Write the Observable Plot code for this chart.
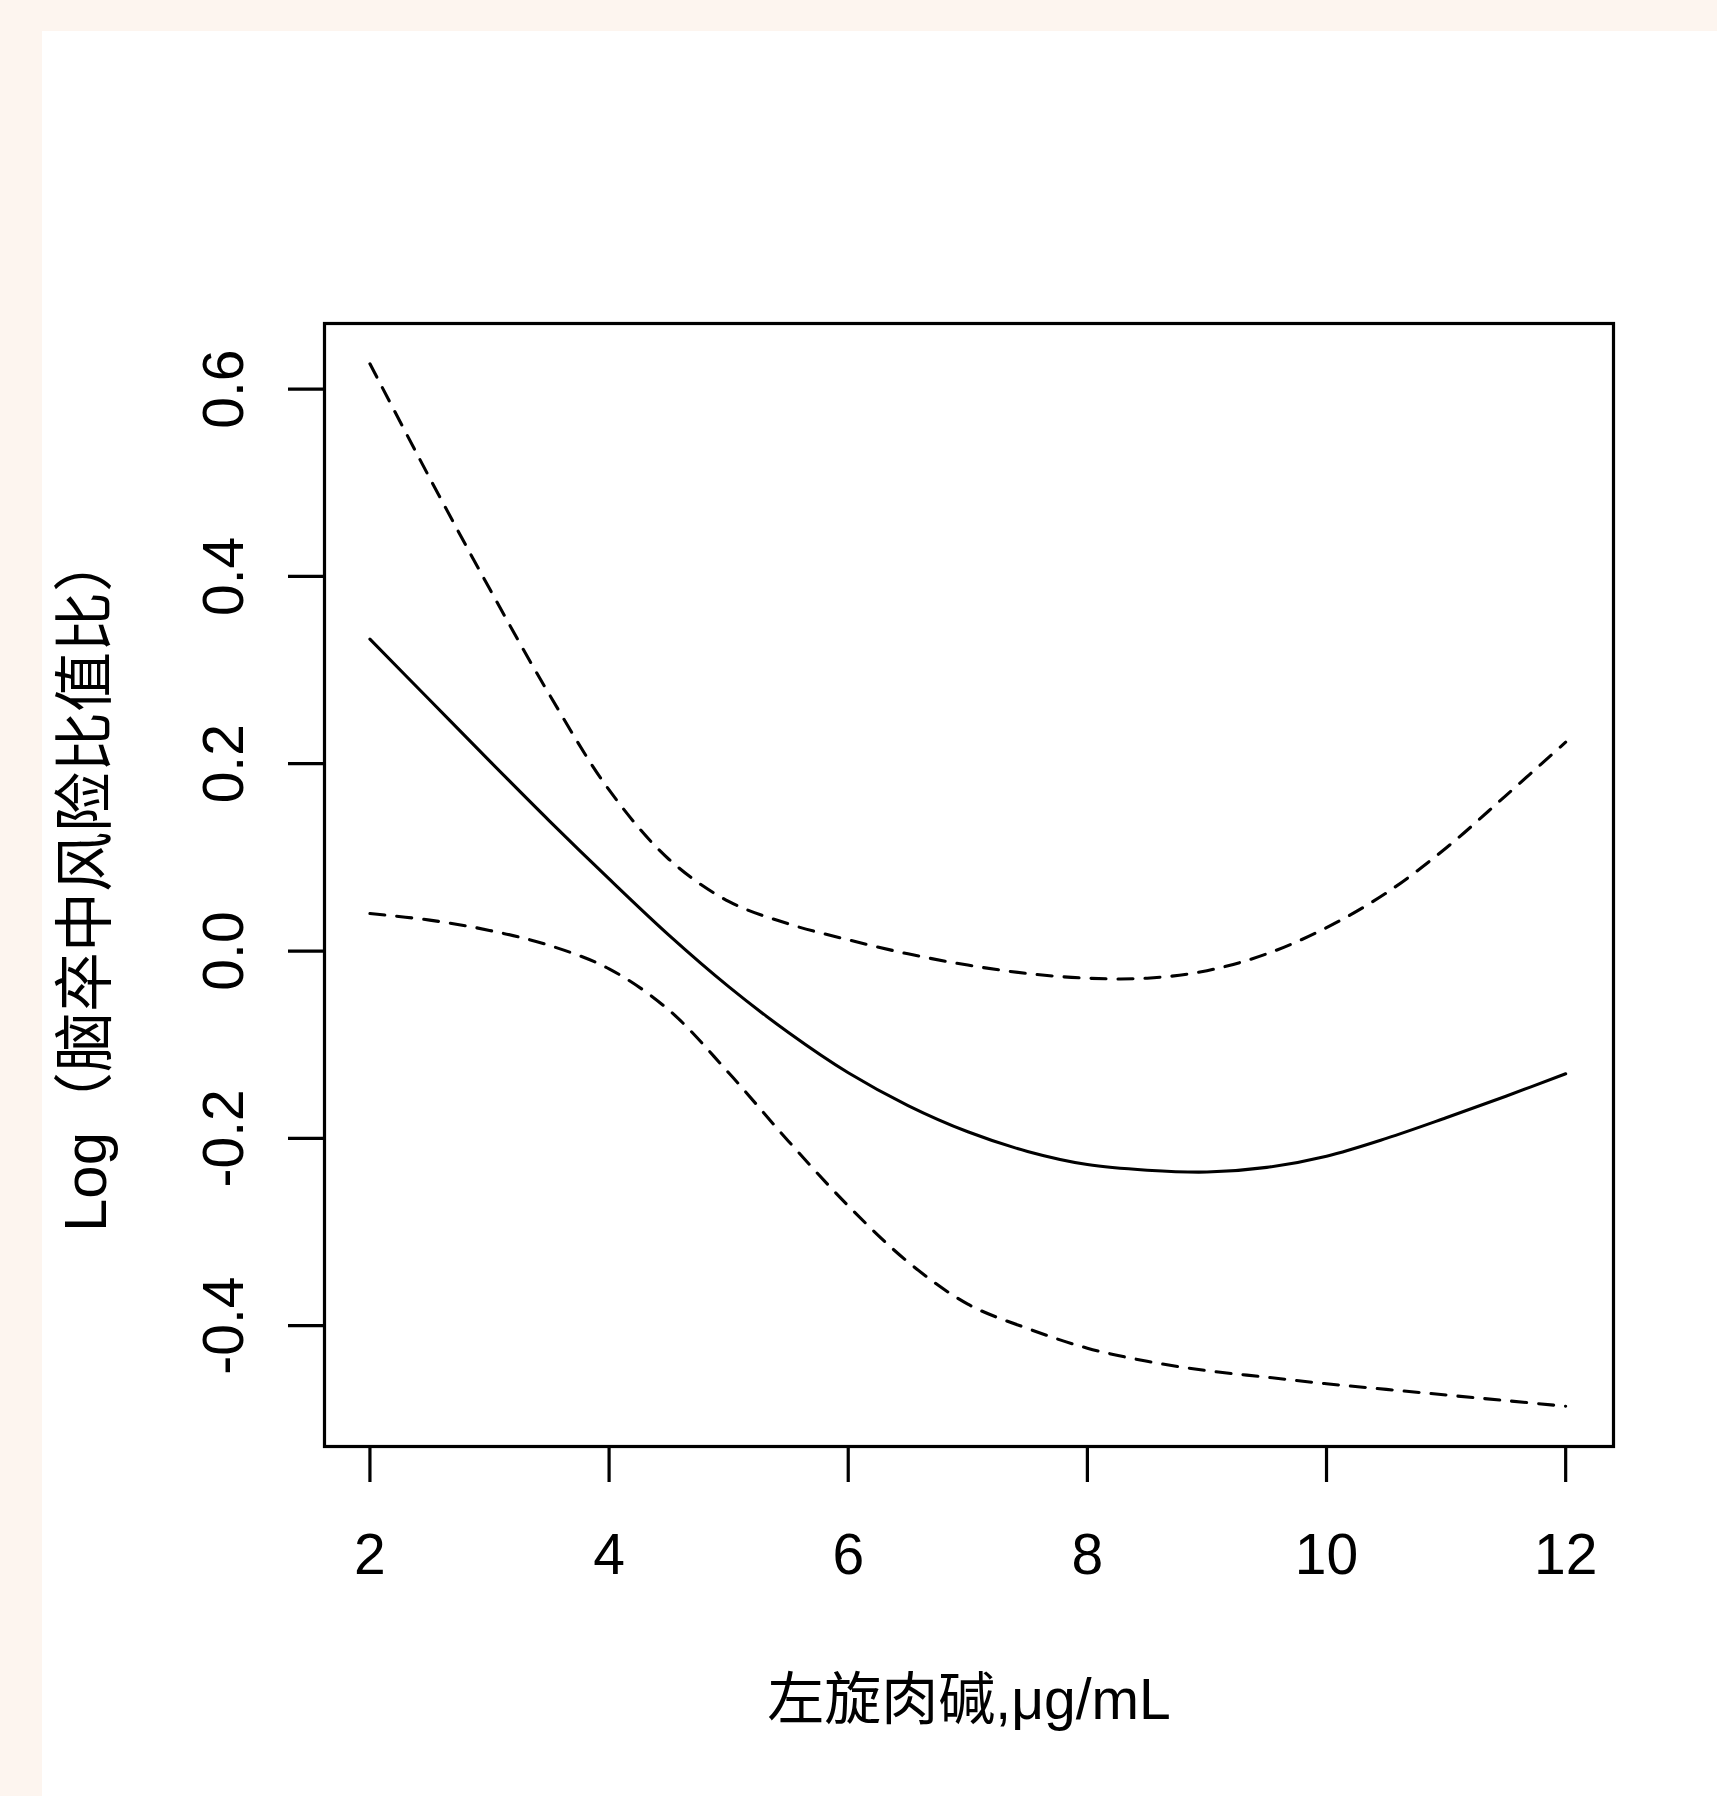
<!DOCTYPE html>
<html>
<head>
<meta charset="utf-8">
<script src="https://cdn.jsdelivr.net/npm/d3@7"></script>
<script src="https://cdn.jsdelivr.net/npm/@observablehq/plot@0.6"></script>
<style>
  html, body { margin: 0; padding: 0; }
  body { width: 1717px; height: 1796px; background: #fdf5ef; position: relative; overflow: hidden; }
  #chart { position: absolute; left: 42px; top: 31px; width: 1675px; height: 1765px; background: #ffffff; }
</style>
</head>
<body>
<div id="chart"></div>
<script>
// L-carnitine (μg/mL)
const carnitine = [2, 2.5, 3, 3.5, 4, 4.5, 5, 5.5, 6, 6.5, 7, 7.5, 8, 8.5, 9, 9.5, 10, 10.5, 11, 11.5, 12];
// log odds ratio of stroke: fitted curve
const logOR = [0.333, 0.268, 0.203, 0.139, 0.077, 0.017, -0.038, -0.087, -0.130, -0.165, -0.193, -0.214, -0.228, -0.234, -0.236, -0.231, -0.219, -0.200, -0.178, -0.155, -0.131];
// upper 95% CI
const upperCI = [0.627, 0.505, 0.387, 0.274, 0.172, 0.098, 0.053, 0.029, 0.012, -0.003, -0.015, -0.024, -0.029, -0.029, -0.021, -0.003, 0.025, 0.062, 0.110, 0.166, 0.223];
// lower 95% CI
const lowerCI = [0.040, 0.033, 0.022, 0.006, -0.019, -0.063, -0.130, -0.203, -0.272, -0.332, -0.377, -0.403, -0.424, -0.438, -0.448, -0.455, -0.462, -0.468, -0.474, -0.480, -0.486];

const xTicks = [2, 4, 6, 8, 10, 12];
const yTicks = [-0.4, -0.2, 0.0, 0.2, 0.4, 0.6];
const xTitle = "左旋肉碱,μg/mL";
const yTitle = "Log（脑卒中风险比值比）";

const rows = carnitine.map((x, i) => ({x, fit: logOR[i], hi: upperCI[i], lo: lowerCI[i]}));

const FONT = "'Liberation Sans', Arial, 'Noto Sans CJK SC', sans-serif";
const FS = 57;
const LW = 3.1;

const chart = Plot.plot({
  width: 1675,
  height: 1765,
  marginLeft: 282,
  marginTop: 292,
  marginRight: 104,
  marginBottom: 350,
  style: {background: "#ffffff", fontFamily: FONT, color: "#000"},
  x: {domain: [1.62, 12.4]},
  y: {domain: [-0.529, 0.670]},
  marks: [
    Plot.line(rows, {x: "x", y: "hi", stroke: "#000", strokeWidth: LW, strokeDasharray: "15,12", curve: "catmull-rom"}),
    Plot.line(rows, {x: "x", y: "lo", stroke: "#000", strokeWidth: LW, strokeDasharray: "15,12", curve: "catmull-rom"}),
    Plot.line(rows, {x: "x", y: "fit", stroke: "#000", strokeWidth: LW, curve: "catmull-rom"}),
    Plot.axisX({ticks: xTicks, tickSize: 36, tickPadding: 51, strokeWidth: 3.2, stroke: "#000", fill: "#000",
      fontSize: FS, tickFormat: d => String(d), label: null}),
    Plot.axisY({ticks: yTicks, tickSize: 36, tickPadding: 46, tickRotate: -90, strokeWidth: 3.2, stroke: "#000", fill: "#000",
      fontSize: FS, tickFormat: d => d.toFixed(1), label: null}),
    Plot.frame({stroke: "#000", strokeWidth: 3.2}),
    Plot.text([xTitle], {text: d => d, frameAnchor: "bottom", dy: 272, lineAnchor: "bottom", textAnchor: "middle",
      fontSize: FS, fill: "#000"}),
    Plot.text([yTitle], {text: d => d, frameAnchor: "left", rotate: -90, dx: -219, dy: -3, lineAnchor: "bottom", textAnchor: "middle",
      fontSize: 60, fill: "#000"})
  ]
});
document.getElementById("chart").appendChild(chart);
</script>
</body>
</html>
